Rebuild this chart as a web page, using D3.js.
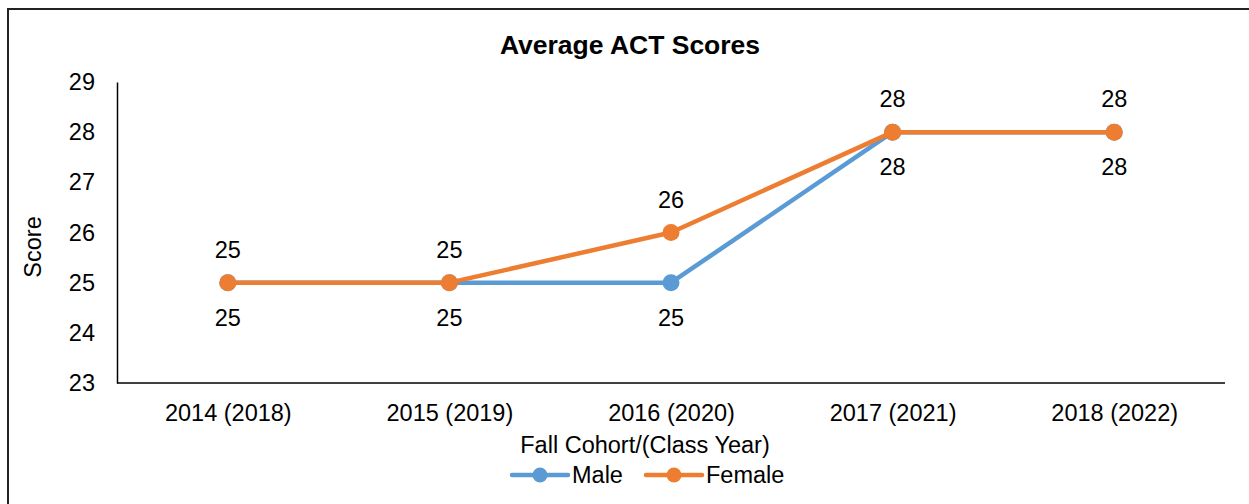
<!DOCTYPE html>
<html>
<head>
<meta charset="utf-8">
<script src="https://cdn.jsdelivr.net/npm/d3@7"></script>
<style>
  body { margin: 0; background: #fff; }
  svg { display: block; font-family: Arial, "Liberation Sans", sans-serif; }
</style>
</head>
<body>
<div id="chart"></div>
<script>
// chart data
const cohorts = ['2014 (2018)', '2015 (2019)', '2016 (2020)', '2017 (2021)', '2018 (2022)'];
const maleScores = [25, 25, 25, 28, 28];
const femaleScores = [25, 25, 26, 28, 28];
const yTicks = [23, 24, 25, 26, 27, 28, 29];

const width = 1249;
const height = 504;

const svg = d3.select('#chart')
  .append('svg')
  .attr('width', width)
  .attr('height', height);

// outer frame
svg.append('rect')
  .attr('x', 8)
  .attr('y', 9)
  .attr('width', width + 20)
  .attr('height', height + 20)
  .attr('fill', 'none')
  .attr('stroke', '#222')
  .attr('stroke-width', 2);

const x = d3.scalePoint()
  .domain(cohorts)
  .range([117, 1225])
  .padding(0.5);

const y = d3.scaleLinear()
  .domain([23, 29])
  .range([383, 82]);

// title
svg.append('text')
  .attr('x', 630)
  .attr('y', 45)
  .attr('dy', '0.35em')
  .attr('text-anchor', 'middle')
  .style('font-size', '26.5px')
  .style('font-weight', 'bold')
  .text('Average ACT Scores');

// y axis
const yAxis = svg.append('g')
  .attr('transform', 'translate(117,0)')
  .call(d3.axisLeft(y).tickValues(yTicks).tickSize(0).tickPadding(22).tickFormat(d3.format('d')));
yAxis.select('.domain').attr('stroke', '#000').attr('stroke-width', 1.5);
yAxis.selectAll('text').style('font-size', '23.5px').attr('fill', '#000');

// x axis
const xAxis = svg.append('g')
  .attr('transform', 'translate(0,383)')
  .call(d3.axisBottom(x).tickSize(0).tickPadding(0));
xAxis.select('.domain')
  .attr('d', `M117,0H1225`)
  .attr('stroke', '#000').attr('stroke-width', 1.5);
xAxis.selectAll('text')
  .attr('y', 30)
  .attr('dy', '0.35em')
  .style('font-size', '23.5px')
  .attr('fill', '#000');

// axis titles
svg.append('text')
  .attr('transform', 'translate(33,247) rotate(-90)')
  .attr('dy', '0.35em')
  .attr('text-anchor', 'middle')
  .style('font-size', '23.5px')
  .text('Score');

svg.append('text')
  .attr('x', 645)
  .attr('y', 445)
  .attr('dy', '0.35em')
  .attr('text-anchor', 'middle')
  .style('font-size', '23.5px')
  .text('Fall Cohort/(Class Year)');

const series = [
  { name: 'Male', values: maleScores, color: '#5B9BD5', labelDy: 35 },
  { name: 'Female', values: femaleScores, color: '#ED7D31', labelDy: -33 }
];

const line = d3.line()
  .x((d, i) => x(cohorts[i]))
  .y(d => y(d));

series.forEach(s => {
  svg.append('path')
    .datum(s.values)
    .attr('d', line)
    .attr('fill', 'none')
    .attr('stroke', s.color)
    .attr('stroke-width', 4.5)
    .attr('stroke-linejoin', 'round');

  svg.selectAll(null)
    .data(s.values)
    .enter()
    .append('circle')
    .attr('cx', (d, i) => x(cohorts[i]))
    .attr('cy', d => y(d))
    .attr('r', 8.5)
    .attr('fill', s.color);
});

// data labels
series.forEach(s => {
  svg.selectAll(null)
    .data(s.values)
    .enter()
    .append('text')
    .attr('x', (d, i) => x(cohorts[i]))
    .attr('y', d => y(d) + s.labelDy)
    .attr('dy', '0.35em')
    .attr('text-anchor', 'middle')
    .style('font-size', '23.5px')
    .text(d => d);
});

// legend
const legendItems = [
  { name: 'Male', color: '#5B9BD5', x: 512 },
  { name: 'Female', color: '#ED7D31', x: 646 }
];
legendItems.forEach(item => {
  const g = svg.append('g').attr('transform', `translate(${item.x},475)`);
  g.append('line')
    .attr('x1', 0).attr('x2', 56)
    .attr('stroke', item.color)
    .attr('stroke-width', 4.5)
    .attr('stroke-linecap', 'round');
  g.append('circle')
    .attr('cx', 28)
    .attr('r', 7.5)
    .attr('fill', item.color);
  g.append('text')
    .attr('x', 60)
    .attr('dy', '0.35em')
    .style('font-size', '23.5px')
    .text(item.name);
});
</script>
</body>
</html>
